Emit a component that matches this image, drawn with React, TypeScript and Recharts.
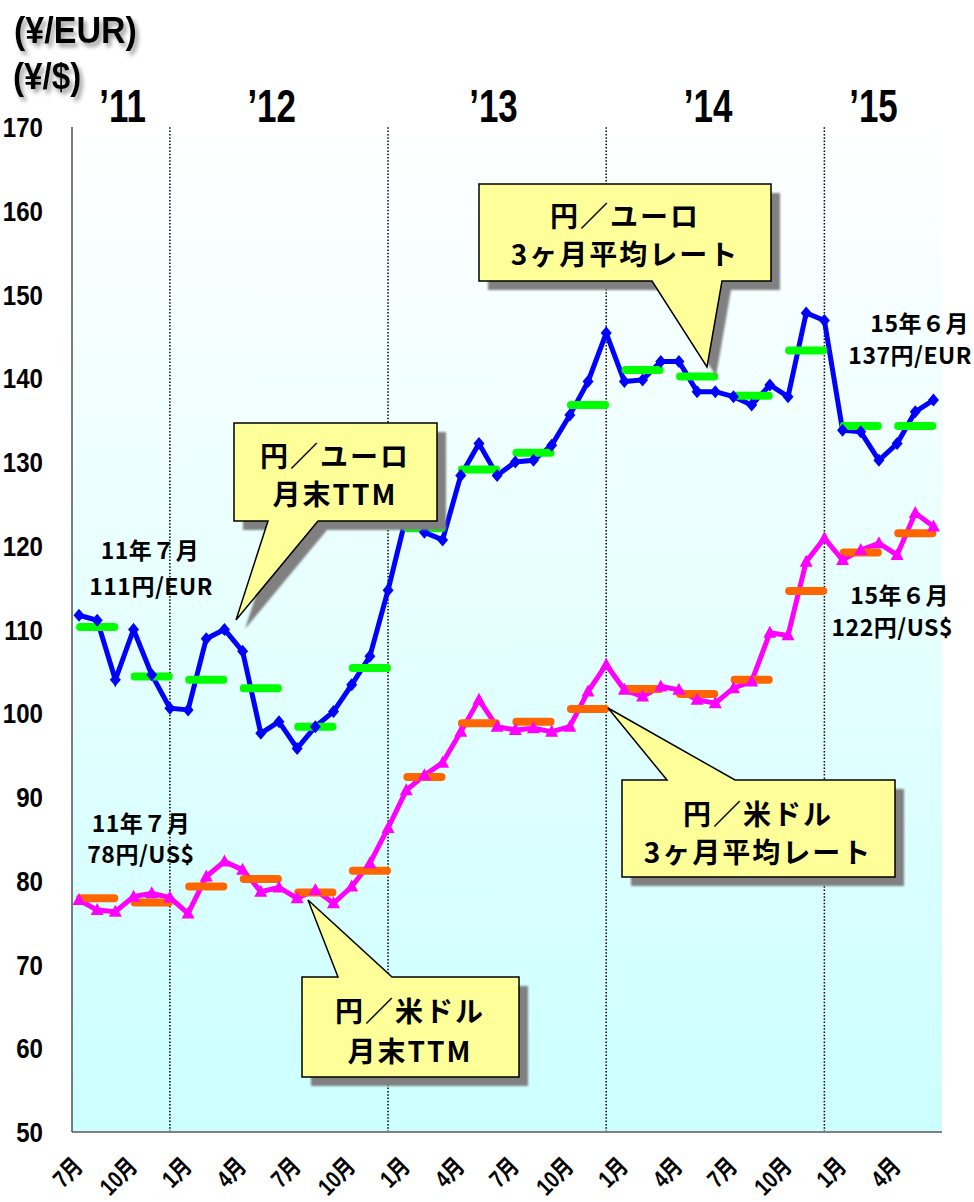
import React from "react";
import { CartesianGrid, Line, LineChart, ReferenceLine, XAxis, YAxis } from "recharts";

// month-end TTM rates, Jul 2011 .. Jun 2015
const eurTtm = [
  111.7, 111.1, 104.0, 110.0, 104.6, 100.6, 100.4, 108.9, 110.0, 107.4, 97.6, 99.0,
  95.8, 98.4, 100.2, 103.4, 106.8, 114.7, 123.5, 121.6, 120.7, 128.4, 132.2, 128.4,
  130.0, 130.2, 132.0, 135.6, 139.6, 145.4, 139.6, 139.8, 142.0, 142.0, 138.4, 138.4,
  137.8, 136.8, 139.2, 137.8, 147.8, 146.9, 133.8, 133.6, 130.2, 132.2, 136.0, 137.4,
];
const usdTtm = [
  77.7, 76.5, 76.3, 78.1, 78.5, 78.0, 76.1, 80.5, 82.3, 81.3, 78.7, 79.2,
  77.9, 78.9, 77.3, 79.3, 82.1, 86.3, 90.8, 92.6, 94.1, 97.8, 101.6, 98.4,
  98.0, 98.2, 97.8, 98.4, 102.6, 105.8, 102.8, 102.0, 103.2, 102.8, 101.6, 101.2,
  103.0, 103.8, 109.6, 109.3, 118.1, 120.9, 118.3, 119.5, 120.3, 118.9, 123.9, 122.3,
];
// 3-month averages, one per quarter
const eurAvg = [110.3, 104.4, 104.0, 103.0, 98.4, 105.4, 122.1, 129.1, 131.1, 136.8, 141.0, 140.2, 137.9, 143.3, 134.3, 134.3];
const usdAvg = [77.9, 77.4, 79.3, 80.2, 78.6, 81.2, 92.4, 98.8, 99.0, 100.5, 102.9, 102.3, 104.0, 114.6, 119.2, 121.5];

const xTickIdx = [0, 3, 6, 9, 12, 15, 18, 21, 24, 27, 30, 33, 36, 39, 42, 45];
const xTickLabels = ["7月", "10月", "1月", "4月", "7月", "10月", "1月", "4月", "7月", "10月", "1月", "4月", "7月", "10月", "1月", "4月"];
const yTicks = [50, 60, 70, 80, 90, 100, 110, 120, 130, 140, 150, 160, 170];
const yearPos = [2.4, 10.6, 22.8, 34.6, 43.7];
const yearLabels = ["’11", "’12", "’13", "’14", "’15"];
const decIdx = [5, 17, 29, 41];

const X_DOMAIN: [number, number] = [-0.385, 47.47];
const LATIN = "'Liberation Sans', Arial, 'Noto Sans CJK JP', sans-serif";
const JP = "'Noto Sans CJK JP', sans-serif";

const monthly = eurTtm.map((v, i) => ({ x: i, eur: v, usd: usdTtm[i] }));
const toSegments = (vals: number[]) =>
  vals.flatMap((v, q) => [
    { x: q * 3 + 0.06, v },
    { x: q * 3 + 1.94, v },
    { x: q * 3 + 2, v: null },
  ]);
const eurSeg = toSegments(eurAvg);
const usdSeg = toSegments(usdAvg);

const diamond = (p: any) => (
  <path
    key={`d-${p.index}`}
    d={`M${p.cx},${p.cy - 6.5}L${p.cx + 5.5},${p.cy}L${p.cx},${p.cy + 6.5}L${p.cx - 5.5},${p.cy}Z`}
    fill="#0000ff"
  />
);
const triangle = (p: any) => (
  <path
    key={`t-${p.index}`}
    d={`M${p.cx},${p.cy - 7}L${p.cx + 6.5},${p.cy + 5}L${p.cx - 6.5},${p.cy + 5}Z`}
    fill="#ff00ff"
  />
);

function MonthTick({ x, y, payload }: any) {
  const label = xTickLabels[xTickIdx.indexOf(payload.value)];
  return (
    <text
      transform={`translate(${x + 5},${y + 36}) rotate(-45) scale(0.8,1)`}
      textAnchor="end"
      fontSize={24}
      fontWeight={700}
      fontFamily={LATIN}
      fill="#000"
    >
      {label}
    </text>
  );
}

function YearTick({ x, y, payload }: any) {
  const label = yearLabels[yearPos.indexOf(payload.value)];
  return (
    <text
      transform={`translate(${x},${y - 5}) scale(0.76,1)`}
      textAnchor="middle"
      fontSize={46}
      fontWeight={700}
      fontFamily={LATIN}
      fill="#000"
    >
      {label}
    </text>
  );
}

function ValueTick({ x, y, payload }: any) {
  return (
    <text
      transform={`translate(${x - 29},${y + 10}) scale(0.86,1)`}
      textAnchor="end"
      fontSize={28}
      fontWeight={700}
      fontFamily={LATIN}
      fill="#000"
    >
      {payload.value}
    </text>
  );
}

type Callout = {
  x: number; y: number; w: number; h: number;
  side: "top" | "bottom"; b1: number; b2: number; tx: number; ty: number;
  lines: string[]; cx: number; ly: number[];
};

const callouts: Callout[] = [
  { x: 479, y: 184, w: 292, h: 97, side: "bottom", b1: 652, b2: 722, tx: 707, ty: 367,
    lines: ["円／ユーロ", "3ヶ月平均レート"], cx: 625, ly: [227, 265] },
  { x: 234, y: 423, w: 203, h: 98, side: "bottom", b1: 268, b2: 318, tx: 236, ty: 620,
    lines: ["円／ユーロ", "月末TTM"], cx: 335, ly: [467, 505] },
  { x: 622, y: 780, w: 273, h: 97, side: "top", b1: 667, b2: 735, tx: 608, ty: 708,
    lines: ["円／米ドル", "3ヶ月平均レート"], cx: 758, ly: [825, 863] },
  { x: 302, y: 977, w: 217, h: 100, side: "top", b1: 338, b2: 392, tx: 308, ty: 900,
    lines: ["円／米ドル", "月末TTM"], cx: 410, ly: [1022, 1062] },
];

function calloutPath(c: Callout) {
  const r = c.x + c.w;
  const b = c.y + c.h;
  if (c.side === "bottom") {
    return `M${c.x},${c.y}H${r}V${b}H${c.b2}L${c.tx},${c.ty}L${c.b1},${b}H${c.x}Z`;
  }
  return `M${c.x},${c.y}H${c.b1}L${c.tx},${c.ty}L${c.b2},${c.y}H${r}V${b}H${c.x}Z`;
}

const notes = [
  { text: "11年７月", x: 150, y: 559, anchor: "middle" },
  { text: "111円/EUR", x: 151, y: 595, anchor: "middle" },
  { text: "11年７月", x: 141, y: 832, anchor: "middle" },
  { text: "78円/US$", x: 141, y: 863, anchor: "middle" },
  { text: "15年６月", x: 969, y: 332, anchor: "end" },
  { text: "137円/EUR", x: 972, y: 364, anchor: "end" },
  { text: "15年６月", x: 949, y: 604, anchor: "end" },
  { text: "122円/US$", x: 953, y: 636, anchor: "end" },
];

function Overlay() {
  return (
    <svg
      width={974}
      height={1202}
      style={{ position: "absolute", left: 0, top: 0, pointerEvents: "none" }}
    >
      <defs>
        <filter id="titleShadow" x="-10%" y="-10%" width="130%" height="140%">
          <feDropShadow dx="3" dy="4" stdDeviation="2" floodColor="#777" floodOpacity="0.7" />
        </filter>
        <filter id="boxShadow" x="-5%" y="-5%" width="115%" height="115%">
          <feGaussianBlur stdDeviation="1" />
        </filter>
      </defs>
      <g filter="url(#titleShadow)" fontFamily={LATIN} fontWeight={700} fontSize={37} fill="#000">
        <text transform="translate(14,43) scale(0.92,1)">(¥/EUR)</text>
        <text transform="translate(13,89) scale(0.9,1)">(¥/$)</text>
      </g>
      {callouts.map((c, i) => (
        <g key={i}>
          <path d={calloutPath(c)} transform="translate(9,9)" fill="#808080" filter="url(#boxShadow)" />
          <path d={calloutPath(c)} fill="#ffff99" stroke="#000" strokeWidth={1.5} />
          {c.lines.map((l, j) => (
            <text
              key={j}
              x={c.cx}
              y={c.ly[j]}
              textAnchor="middle"
              fontFamily={JP}
              fontWeight={700}
              fontSize={28}
              letterSpacing={2}
              fill="#000"
            >
              {l}
            </text>
          ))}
        </g>
      ))}
      {notes.map((n, i) => (
        <text
          key={i}
          x={n.x}
          y={n.y}
          textAnchor={n.anchor as any}
          fontFamily={JP}
          fontWeight={700}
          fontSize={23}
          letterSpacing={0.5}
          fill="#000"
        >
          {n.text}
        </text>
      ))}
    </svg>
  );
}

export default function App() {
  return (
    <div style={{ position: "absolute", left: 0, top: 0, width: 974, height: 1202, background: "#fff" }}>
      <LineChart width={974} height={1202} data={monthly} margin={{ top: 0, right: 32, bottom: 0, left: 12 }}>
        <defs>
          <linearGradient id="plotBg" x1="0" y1="0" x2="0" y2="1">
            <stop offset="0%" stopColor="#ffffff" />
            <stop offset="100%" stopColor="#ccffff" />
          </linearGradient>
        </defs>
        <CartesianGrid xAxisId="b" horizontal={false} vertical={false} fill="url(#plotBg)" />
        <XAxis
          xAxisId="b"
          type="number"
          dataKey="x"
          domain={X_DOMAIN}
          allowDataOverflow
          ticks={xTickIdx}
          interval={0}
          height={70}
          tickSize={0}
          tickMargin={0}
          tickLine={false}
          axisLine={{ stroke: "#808080", strokeWidth: 2 }}
          tick={(p: any) => <MonthTick {...p} />}
        />
        <XAxis
          xAxisId="t"
          orientation="top"
          type="number"
          dataKey="x"
          domain={X_DOMAIN}
          allowDataOverflow
          ticks={yearPos}
          interval={0}
          height={127}
          tickSize={0}
          tickMargin={0}
          tickLine={false}
          axisLine={false}
          tick={(p: any) => <YearTick {...p} />}
        />
        <YAxis
          type="number"
          domain={[50, 170]}
          allowDataOverflow
          ticks={yTicks}
          interval={0}
          width={60}
          tickSize={0}
          tickMargin={0}
          tickLine={false}
          axisLine={{ stroke: "#505050", strokeWidth: 1.5 }}
          tick={(p: any) => <ValueTick {...p} />}
        />
        {decIdx.map((d) => (
          <ReferenceLine key={d} xAxisId="b" x={d} stroke="#000" strokeWidth={1.5} strokeDasharray="1.5 1.8" />
        ))}
        <Line
          xAxisId="b"
          type="linear"
          dataKey="usd"
          stroke="#ff00ff"
          strokeWidth={5}
          dot={triangle}
          activeDot={false}
          isAnimationActive={false}
        />
        <Line
          xAxisId="b"
          type="linear"
          dataKey="eur"
          stroke="#0000ff"
          strokeWidth={5}
          dot={diamond}
          activeDot={false}
          isAnimationActive={false}
        />
        <Line
          xAxisId="b"
          type="linear"
          data={eurSeg}
          dataKey="v"
          stroke="#00ff00"
          strokeWidth={8}
          strokeLinecap="round"
          dot={false}
          activeDot={false}
          isAnimationActive={false}
        />
        <Line
          xAxisId="b"
          type="linear"
          data={usdSeg}
          dataKey="v"
          stroke="#ff6600"
          strokeWidth={8}
          strokeLinecap="round"
          dot={false}
          activeDot={false}
          isAnimationActive={false}
        />
      </LineChart>
      <Overlay />
    </div>
  );
}
